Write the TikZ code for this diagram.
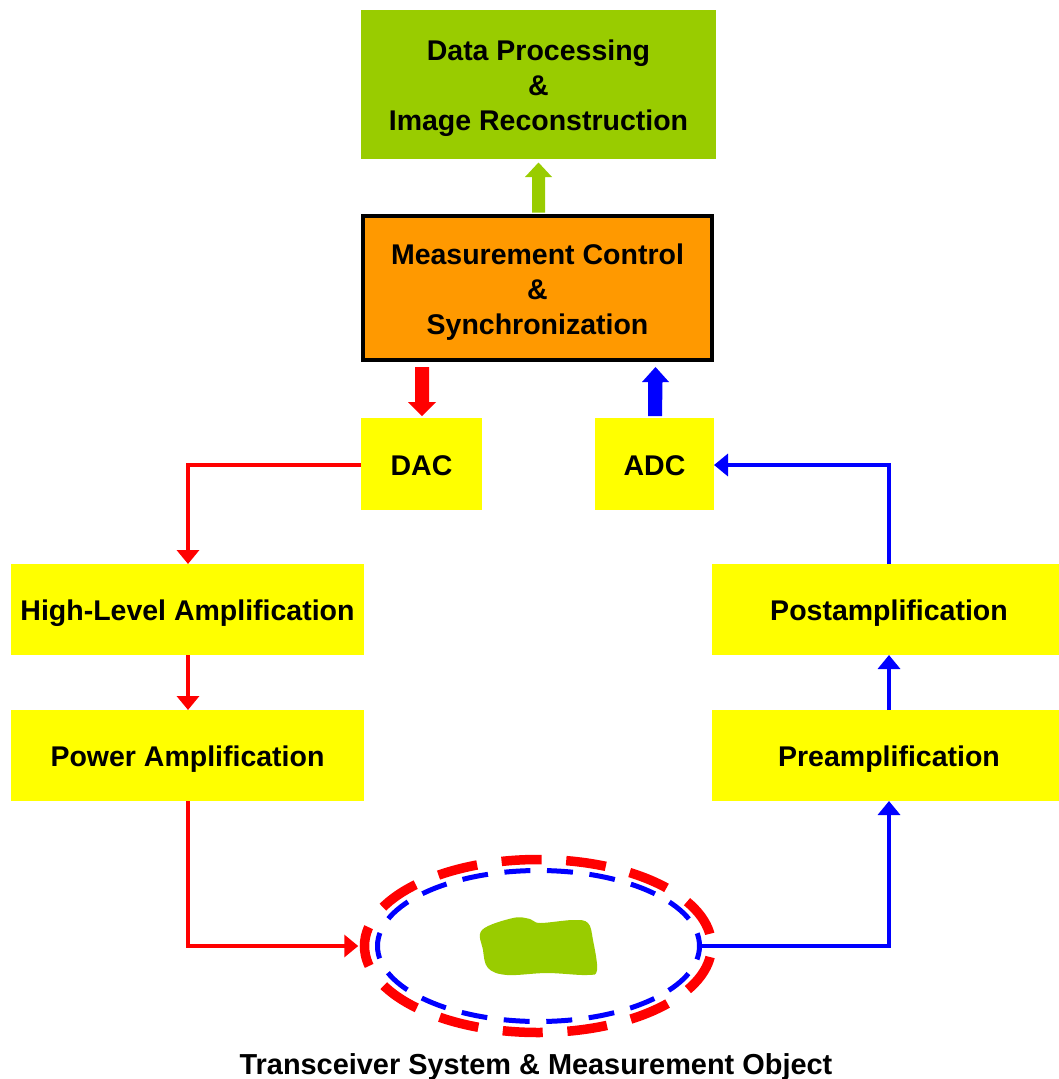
\documentclass[tikz,border=0pt]{standalone}
\usepackage{fontspec}
\setmainfont{Liberation Sans}
\usetikzlibrary{arrows.meta,shapes.geometric,calc}
\definecolor{procgreen}{HTML}{99CC00}
\definecolor{ctrlorange}{HTML}{FF9900}
\definecolor{boxyellow}{HTML}{FFFF00}
\definecolor{txred}{HTML}{FF0000}
\definecolor{rxblue}{HTML}{0000FF}
% centred rows of bold text, set a little below the box middle
\newcommand{\boxtext}[1]{\raisebox{-4pt}[\height][\depth]{\begin{tabular}{@{}c@{}}#1\end{tabular}}}
\tikzset{
  lbl/.style={font=\bfseries\fontsize{28.5}{35}\selectfont},
  block/.style={lbl, inner sep=0pt, outer sep=0pt, anchor=center},
  yblock/.style={block, fill=boxyellow},
  txline/.style={draw=txred, line width=4pt, -{Triangle[width=22pt,length=14pt]}},
  rxline/.style={draw=rxblue, line width=4pt, -{Triangle[width=22pt,length=14pt]}},
}
\begin{document}
\begin{tikzpicture}[x=1pt, y=-1pt]
\useasboundingbox (0,0) rectangle (1059,1079);

% processing and control blocks
\node[block, fill=procgreen, minimum width=355pt, minimum height=149pt] (dp) at (538.5,84.5)
  {\boxtext{Data Processing\\\&\\Image Reconstruction}};
\node[block, fill=ctrlorange, draw=black, line width=4pt, minimum width=349pt, minimum height=144pt] (mc) at (537.5,288)
  {\boxtext{Measurement Control\\\&\\Synchronization}};

% converters
\node[yblock, minimum width=121pt, minimum height=92pt] (dac) at (421.5,464) {\boxtext{DAC}};
\node[yblock, minimum width=119pt, minimum height=92pt] (adc) at (654.5,464) {\boxtext{ADC}};

% transmit chain
\node[yblock, minimum width=353pt, minimum height=91pt] (hla) at (187.5,609.5) {\boxtext{High-Level Amplification}};
\node[yblock, minimum width=353pt, minimum height=91pt] (pwa) at (187.5,755.5) {\boxtext{Power Amplification}};

% receive chain
\node[yblock, minimum width=354pt, minimum height=91pt] (post) at (889,609.5) {\boxtext{Postamplification}};
\node[yblock, minimum width=354pt, minimum height=91pt] (pre) at (889,755.5) {\boxtext{Preamplification}};

% transceiver electrodes (13 red and 18 blue dashes) and the object
\node[ellipse, draw=txred, line width=9.5pt, dash pattern=on 40pt off 24.7pt, dash phase=52.35pt,
      minimum width=347pt, minimum height=173pt, inner sep=0pt] (rell) at (538,946) {};
\node[ellipse, draw=rxblue, line width=5pt, dash pattern=on 26pt off 16.6pt, dash phase=13pt,
      minimum width=322pt, minimum height=151pt, inner sep=0pt] (bell) at (538.5,946) {};
\fill[procgreen] plot[smooth cycle, tension=0.6] coordinates {
  (482,930) (513,918) (530,919) (540,923) (573,920) (588,923) (593,940)
  (597,970) (587,975) (547,973) (507,975) (488,968) (483,950)};
\node[block, font=\bfseries\fontsize{28.9}{35}\selectfont] (cap) at (536,1063.5)
  {\boxtext{Transceiver System \& Measurement Object}};

% wide control arrows
\fill[procgreen] ($(dp.south)+(0,3.5)$) -- ++(13.5,14.5) -- ++(-7,0)
  -- ($(mc.north)+(7.5,-3.5)$) -- ++(-13,0) -- ($(dp.south)+(-6.5,18)$) -- ++(-7,0) -- cycle;
\fill[txred] ($(dac.north)+(0.5,-2)$) -- ++(14,-14) -- ++(-7,0)
  -- ($(mc.south -| dac.north)+(7.5,7)$) -- ++(-14,0) -- ($(dac.north)+(-6.5,-16)$) -- ++(-7,0) -- cycle;
\fill[rxblue] ($(adc.north)+(-6.5,-2)$) -- ($(mc.south -| adc.north)+(-6.5,22)$) -- ++(-6,0)
  -- ($(mc.south -| adc.north)+(1,7)$) -- ++(13.5,15) -- ++(-6.5,0) -- ($(adc.north)+(7.5,-2)$) -- cycle;

% signal path
\draw[txline] ([yshift=-1pt]dac.west) -| ([xshift=0.5pt]hla.north);
\draw[txline] ([xshift=0.5pt]hla.south) -- ([xshift=0.5pt]pwa.north);
\draw[txline] ([xshift=0.5pt]pwa.south) |- ([xshift=-1.5pt]rell.west);
\draw[rxline] (bell.east) -| (pre.south);
\draw[rxline] (pre.north) -- (post.south);
\draw[rxline] (post.north) |- ([yshift=-1pt]adc.east);
\end{tikzpicture}
\end{document}
